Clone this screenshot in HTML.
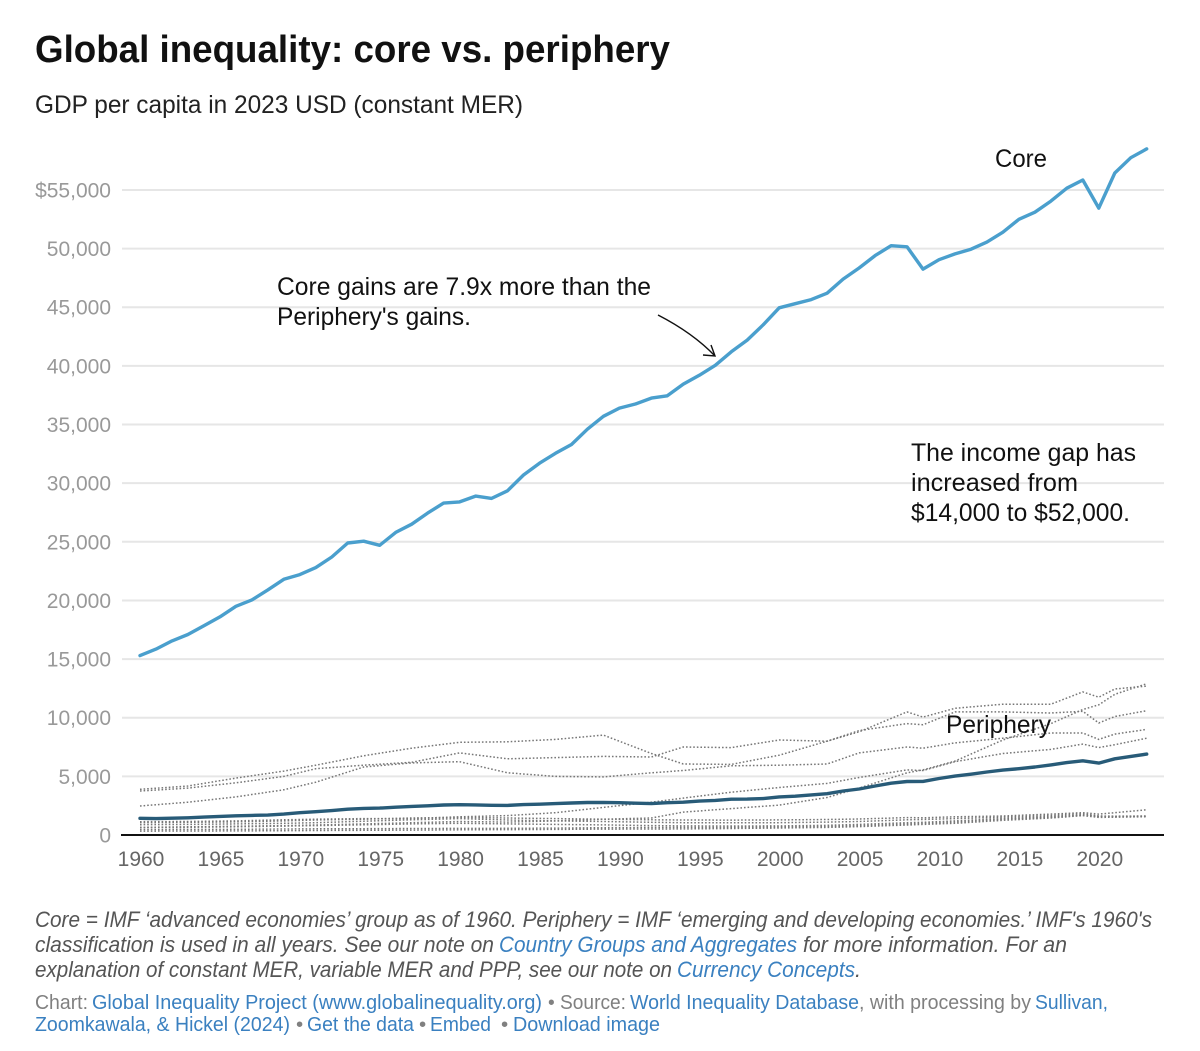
<!DOCTYPE html>
<html lang="en">
<head>
<meta charset="utf-8">
<title>Global inequality: core vs. periphery</title>
<style>
html,body{margin:0;padding:0;background:#fff;width:1200px;height:1051px;overflow:hidden}
svg{display:block;font-family:"Liberation Sans",sans-serif}
.note{font-size:22px;font-style:italic;fill:#555}
.foot{font-size:20.5px;fill:#808080}
.link{fill:#3a80c0;cursor:pointer}
.anno{font-size:25px;fill:#111}
</style>
</head>
<body>
<svg id="chart" xmlns="http://www.w3.org/2000/svg" width="1200" height="1051" viewBox="0 0 1200 1051">
  <text x="35" y="62" font-size="38" font-weight="700" fill="#111" textLength="635" lengthAdjust="spacingAndGlyphs">Global inequality: core vs. periphery</text>
  <text x="35" y="113" font-size="25" fill="#222" textLength="488" lengthAdjust="spacingAndGlyphs">GDP per capita in 2023 USD (constant MER)</text>

  <g id="grid"></g>
  <g id="yaxis"></g>
  <g id="xaxis"></g>
  <g id="marks"></g>

  <text class="anno" x="995" y="167" textLength="52" lengthAdjust="spacingAndGlyphs">Core</text>
  <text class="anno" x="946" y="733" textLength="105" lengthAdjust="spacingAndGlyphs">Periphery</text>
  <g>
    <text class="anno" x="277" y="295" textLength="374" lengthAdjust="spacingAndGlyphs">Core gains are 7.9x more than the</text>
    <text class="anno" x="277" y="325" textLength="194" lengthAdjust="spacingAndGlyphs">Periphery's gains.</text>
  </g>
  <g>
    <text class="anno" x="911" y="461" textLength="225" lengthAdjust="spacingAndGlyphs">The income gap has</text>
    <text class="anno" x="911" y="491" textLength="167" lengthAdjust="spacingAndGlyphs">increased from</text>
    <text class="anno" x="911" y="521" textLength="219" lengthAdjust="spacingAndGlyphs">$14,000 to $52,000.</text>
  </g>
  <g fill="none" stroke="#111" stroke-width="1.4">
    <path d="M658 315 Q693 333 715 356"/>
    <path d="M703 355 L715 356 L711 345"/>
  </g>

  <g>
    <text class="note" x="35" y="927" textLength="1117" lengthAdjust="spacingAndGlyphs">Core = IMF ‘advanced economies’ group as of 1960. Periphery = IMF ‘emerging and developing economies.’ IMF's 1960's</text>
    <text class="note" x="35" y="952" textLength="459" lengthAdjust="spacingAndGlyphs">classification is used in all years. See our note on</text>
    <text class="note link" x="499" y="952" textLength="298" lengthAdjust="spacingAndGlyphs">Country Groups and Aggregates</text>
    <text class="note" x="803" y="952" textLength="264" lengthAdjust="spacingAndGlyphs">for more information. For an</text>
    <text class="note" x="35" y="977" textLength="637" lengthAdjust="spacingAndGlyphs">explanation of constant MER, variable MER and PPP, see our note on</text>
    <text class="note link" x="677" y="977" textLength="178" lengthAdjust="spacingAndGlyphs">Currency Concepts</text>
    <text class="note" x="855" y="977">.</text>
  </g>
  <g>
    <text class="foot" x="35" y="1009" textLength="53" lengthAdjust="spacingAndGlyphs">Chart:</text>
    <text class="foot link" x="92" y="1009" textLength="450" lengthAdjust="spacingAndGlyphs">Global Inequality Project (www.globalinequality.org)</text>
    <text class="foot" x="548" y="1009" textLength="78" lengthAdjust="spacingAndGlyphs">• Source:</text>
    <text class="foot link" x="630" y="1009" textLength="229" lengthAdjust="spacingAndGlyphs">World Inequality Database</text>
    <text class="foot" x="859" y="1009" textLength="172" lengthAdjust="spacingAndGlyphs">, with processing by</text>
    <text class="foot link" x="1035" y="1009" textLength="73" lengthAdjust="spacingAndGlyphs">Sullivan,</text>
    <text class="foot link" x="35" y="1031" textLength="255" lengthAdjust="spacingAndGlyphs">Zoomkawala, &amp; Hickel (2024)</text>
    <text class="foot" x="296" y="1031">•</text>
    <text class="foot link" x="307" y="1031" textLength="107" lengthAdjust="spacingAndGlyphs">Get the data</text>
    <text class="foot" x="419" y="1031">•</text>
    <text class="foot link" x="430" y="1031" textLength="61" lengthAdjust="spacingAndGlyphs">Embed</text>
    <text class="foot" x="501" y="1031">•</text>
    <text class="foot link" x="513" y="1031" textLength="147" lengthAdjust="spacingAndGlyphs">Download image</text>
  </g>
</svg>
<script>
const firstYear = 1960;
const yTickValues = [0, 5000, 10000, 15000, 20000, 25000, 30000, 35000, 40000, 45000, 50000, 55000];
const yTickLabels = ["0", "5,000", "10,000", "15,000", "20,000", "25,000", "30,000", "35,000", "40,000", "45,000", "50,000", "$55,000"];
const xTickYears = [1960, 1965, 1970, 1975, 1980, 1985, 1990, 1995, 2000, 2005, 2010, 2015, 2020];

const coreValues = [15300, 15850, 16550, 17100, 17850, 18600, 19500, 20050, 20900, 21800,
  22200, 22800, 23700, 24900, 25050, 24700, 25800, 26500, 27450, 28300,
  28400, 28900, 28700, 29350, 30700, 31700, 32550, 33300, 34600, 35700,
  36400, 36750, 37250, 37450, 38450, 39200, 40050, 41200, 42200, 43500,
  44950, 45300, 45650, 46200, 47400, 48350, 49400, 50250, 50150, 48250,
  49050, 49550, 49950, 50550, 51400, 52500, 53100, 54050, 55150, 55850,
  53450, 56450, 57750, 58500];
const peripheryValues = [1420, 1400, 1430, 1470, 1530, 1590, 1640, 1670, 1700, 1780,
  1900, 1990, 2080, 2200, 2270, 2290, 2370, 2440, 2490, 2560,
  2580, 2570, 2530, 2520, 2590, 2630, 2680, 2730, 2770, 2780,
  2750, 2710, 2680, 2750, 2800, 2890, 2950, 3050, 3060, 3100,
  3250, 3310, 3420, 3520, 3750, 3920, 4180, 4420, 4560, 4570,
  4820, 5020, 5180, 5370, 5530, 5650, 5800, 5980, 6170, 6330,
  6130, 6500, 6700, 6900];

const regionYears = [1960, 1963, 1966, 1969, 1971, 1974, 1977, 1980, 1983, 1986, 1989, 1992, 1994, 1997, 2000, 2003, 2005, 2008, 2009, 2011, 2014, 2017, 2019, 2020, 2021, 2023];
const regionA = [3900, 4180, 4850, 5450, 5950, 6750, 7400, 7900, 7950, 8150, 8520, 6950, 6050, 6020, 6800, 8000, 8900, 9500, 9400, 10500, 10500, 10400, 10550, 9550, 10100, 10600];
const regionB = [3750, 4000, 4450, 5000, 5650, 5950, 6200, 7000, 6500, 6600, 6700, 6650, 7500, 7450, 8100, 8000, 8800, 10500, 10050, 10800, 11150, 11150, 12200, 11750, 12450, 12700];
const regionC = [2470, 2800, 3250, 3850, 4500, 5800, 6150, 6250, 5300, 5000, 4950, 5300, 5500, 5900, 5950, 6050, 7000, 7500, 7400, 7850, 8250, 8700, 8700, 8150, 8600, 9000];
const regionD = [1130, 1150, 1200, 1300, 1350, 1400, 1400, 1550, 1650, 1900, 2350, 2800, 3150, 3650, 4050, 4400, 4900, 5550, 5500, 6250, 6950, 7300, 7750, 7450, 7700, 8250];
const regionE = [650, 700, 750, 800, 850, 950, 1050, 1150, 1100, 1200, 1350, 1450, 1950, 2250, 2550, 3200, 4000, 5300, 5550, 6300, 8100, 9500, 10700, 11100, 12000, 12900];
const regionF = [1050, 1080, 1120, 1200, 1280, 1350, 1450, 1500, 1450, 1400, 1350, 1300, 1280, 1270, 1290, 1320, 1360, 1480, 1470, 1550, 1620, 1780, 1900, 1780, 1900, 2150];
const regionG = [880, 900, 950, 1000, 1050, 1180, 1300, 1400, 1280, 1200, 1150, 1080, 1050, 1040, 1050, 1100, 1150, 1300, 1320, 1400, 1520, 1650, 1820, 1620, 1600, 1620];
const regionH = [640, 660, 700, 760, 800, 870, 950, 1000, 950, 900, 860, 800, 780, 770, 780, 830, 900, 1050, 1080, 1200, 1400, 1550, 1700, 1600, 1600, 1600];
const regionI = [470, 480, 490, 510, 530, 540, 550, 560, 570, 590, 620, 640, 650, 660, 690, 730, 800, 950, 1000, 1100, 1350, 1500, 1700, 1550, 1560, 1590];
const regionJ = [330, 340, 350, 370, 380, 400, 420, 440, 460, 480, 500, 510, 520, 550, 600, 650, 720, 850, 900, 1000, 1250, 1450, 1650, 1500, 1520, 1560];
const dottedSeries = [regionA, regionB, regionC, regionD, regionE, regionF, regionG, regionH, regionI, regionJ];

const SVGNS = "http://www.w3.org/2000/svg";
const xScale = function (year) { return 140 + (year - 1960) * 15.98; };
const yScale = function (value) { return 835 - value * 0.011728; };

function makeEl(tag, attrs, parent) {
  const el = document.createElementNS(SVGNS, tag);
  Object.keys(attrs).forEach(function (k) { el.setAttribute(k, attrs[k]); });
  parent.appendChild(el);
  return el;
}
function linePath(years, values) {
  return values.map(function (v, i) {
    return (i ? "L" : "M") + xScale(years[i]).toFixed(1) + " " + yScale(v).toFixed(1);
  }).join(" ");
}

const gridG = document.getElementById("grid");
const yG = document.getElementById("yaxis");
const xG = document.getElementById("xaxis");
const marksG = document.getElementById("marks");

yTickValues.forEach(function (v, i) {
  if (v !== 0) {
    const g = makeEl("line", { x1: 122, x2: 1164, y1: yScale(v), y2: yScale(v), stroke: "#e6e6e6", "stroke-width": 2 }, gridG);
    
    
  }
  const t = makeEl("text", { x: 111, y: yScale(v) + 7.5, "text-anchor": "end", "font-size": 21, fill: "#999" }, yG);
  
  
  t.textContent = yTickLabels[i];
});

const baseline = makeEl("line", { x1: 121, x2: 1164, y1: yScale(0), y2: yScale(0), stroke: "#111", "stroke-width": 2 }, xG);



xTickYears.forEach(function (yr) {
  const t = makeEl("text", { x: xScale(yr) + 1, y: 866, "text-anchor": "middle", "font-size": 21, fill: "#666" }, xG);
  
  
  t.textContent = yr;
});

dottedSeries.forEach(function (vals) {
  const p = makeEl("path", { d: linePath(regionYears, vals), fill: "none", stroke: "#777", "stroke-width": 1.5, "stroke-dasharray": "1.6 2" }, marksG);
  
  
});

const coreYears = coreValues.map(function (_, i) { return firstYear + i; });
const periYears = peripheryValues.map(function (_, i) { return firstYear + i; });

const coreLine = makeEl("path", { d: linePath(coreYears, coreValues), fill: "none", stroke: "#4a9fcd", "stroke-width": 3.4, "stroke-linejoin": "round", "stroke-linecap": "round" }, marksG);



const periLine = makeEl("path", { d: linePath(periYears, peripheryValues), fill: "none", stroke: "#285b78", "stroke-width": 3.4, "stroke-linejoin": "round", "stroke-linecap": "round" }, marksG);


</script>
</body>
</html>
